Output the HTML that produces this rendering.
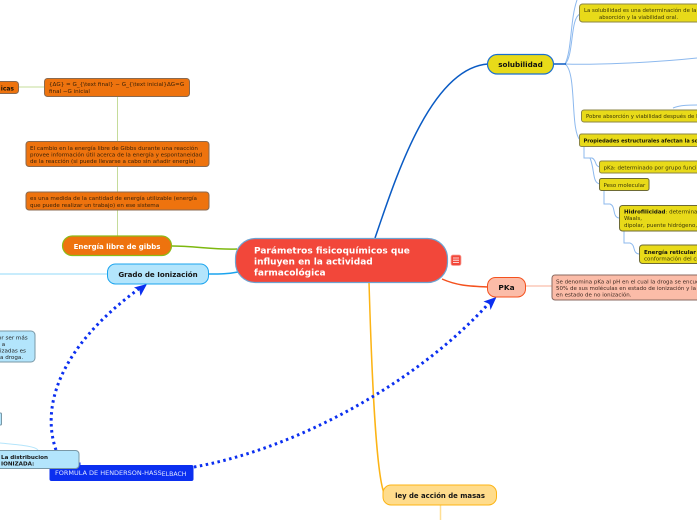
<!DOCTYPE html>
<html><head><meta charset="utf-8"><style>
html,body{margin:0;padding:0;background:#fff;width:697px;height:520px;overflow:hidden}
svg{display:block}
text{font-family:"DejaVu Sans","Liberation Sans",sans-serif}
</style></head><body>
<svg width="697" height="520" viewBox="0 0 697 520" xmlns="http://www.w3.org/2000/svg">
<g fill="none">
<!-- light connectors -->
<path d="M19 87H44" stroke="#c5dc9a" stroke-width="1"/>
<path d="M117.500 97V236" stroke="#c5dc9a" stroke-width="1"/>
<path d="M0 274H108" stroke="#b5e5fb" stroke-width="1.500"/>
<path d="M0 443C20 445 35 446 38 450" stroke="#b5e5fb" stroke-width="1"/>
<path d="M525 286H552" stroke="#fbc9b8" stroke-width="1.500"/>
<path d="M440.500 505V520" stroke="#ffdf94" stroke-width="1.500"/>
<g stroke="#8db9ee" stroke-width="1">
<path d="M565 64C572 50 570 20 577 0"/>
<path d="M565 64C574 56 570 18 580 14"/>
<path d="M565 64C590 65 650 63 697 58"/>
<path d="M565 64C577 72 570 130 580 140"/>
<path d="M673 108C680 105 690 105 697 105"/>
<path d="M584 147V158H592C597 160 594 166 600 167"/>
<path d="M590 158C595 170 592 183 600 184"/>
<path d="M604 191V204H610C616 206 612 217 619 218"/>
<path d="M624 231V243H630C636 245 632 253 639 254"/>
</g>
<!-- main connectors -->
<path d="M172 246C195 246 215 250 237 249" stroke="#7db80f" stroke-width="1.500"/>
<path d="M209 274C220 274 228 274 238 272" stroke="#1ba4ee" stroke-width="1.500"/>
<path d="M375 238C395 180 430 68 488 64" stroke="#0a5bc4" stroke-width="1.500"/>
<path d="M442 279C458 286 470 286 488 287" stroke="#f4511e" stroke-width="1.500"/>
<path d="M369 282C371 350 375 470 384 493" stroke="#fcb415" stroke-width="1.500"/>
<path d="M554 64H566" stroke="#0a5bc4" stroke-width="1.500"/>
<path d="M56 450C42 410 55 350 140 288" stroke="#0b2ff0" stroke-width="3" stroke-dasharray="2.500 3.500"/>
<path d="M78 464H84" stroke="#0b2ff0" stroke-width="3" stroke-dasharray="2.500 3.500"/>
<path d="M194 467C300 448 420 380 490 302" stroke="#0b2ff0" stroke-width="3" stroke-dasharray="2.500 3.500"/>
</g>
<g fill="#0b2ff0">
<path d="M147 284L134 287.500L139.500 290.500L140.500 296Z"/>
<path d="M496.500 297L483.500 301.500L489.500 304L490.500 310Z"/>
</g>

<!-- Left orange nodes -->
<rect x="-20" y="81.500" width="38.500" height="12" rx="3" fill="#ee730e" stroke="#8a6a50"/>
<text x="14" y="90.500" font-size="6" font-weight="bold" text-anchor="end" fill="#1a1206">icas</text>
<rect x="44.500" y="78.500" width="145" height="18" rx="3" fill="#ee730e" stroke="#8a6a50"/>
<text font-size="5.600" fill="#3b2208"><tspan x="49" y="86">{ΔG} = G_{\text final} − G_{\text inicial}ΔG=G</tspan><tspan x="49" y="93">final −G inicial</tspan></text>
<rect x="26" y="141.500" width="183" height="25" rx="3" fill="#ee730e" stroke="#8a6a50"/>
<text font-size="5.600" fill="#3b2208"><tspan x="30" y="150">El cambio en la energía libre de Gibbs durante una reacción</tspan><tspan x="30" y="156.500">provee información útil acerca de la energía y espontaneidad</tspan><tspan x="30" y="163">de la reacción (si puede llevarse a cabo sin añadir energía)</tspan></text>
<rect x="26" y="192" width="183" height="18" rx="3" fill="#ee730e" stroke="#8a6a50"/>
<text font-size="5.600" fill="#3b2208"><tspan x="30" y="200">es una medida de la cantidad de energía utilizable (energía</tspan><tspan x="30" y="207">que puede realizar un trabajo) en ese sistema</tspan></text>
<rect x="62.500" y="236" width="109" height="19.500" rx="9.750" fill="#ee730e" stroke="#8dbb17" stroke-width="1.200"/>
<text x="117" y="249" font-size="7" font-weight="bold" text-anchor="middle" fill="#fff">Energía libre de gibbs</text>

<!-- Grado -->
<rect x="107.500" y="264" width="101" height="20" rx="8" fill="#b3e5fc" stroke="#1ba4ee"/>
<text x="158" y="277" font-size="7.100" font-weight="bold" text-anchor="middle" fill="#151515">Grado de Ionización</text>
<rect x="-30" y="331" width="65" height="31" rx="4" fill="#b3e5fc" stroke="#7a98a6"/>
<text font-size="5.600" fill="#222"><tspan x="-2" y="339.500" text-anchor="start">or ser más</tspan><tspan x="0" y="346"> a</tspan><tspan x="0" y="352.500">izadas es</tspan><tspan x="0" y="359">a droga.</tspan></text>
<rect x="-10" y="413" width="11.500" height="12" rx="1" fill="#b3e5fc" stroke="#7a98a6"/>

<!-- Formula -->
<rect x="49.500" y="465" width="144" height="16" rx="2" fill="#0b2ff0"/>
<text x="55" y="475" font-size="6.500" fill="#dfe6ff">FORMULA DE HENDERSON-HASS<tspan font-size="6.200" dy="1">ELBACH</tspan></text>
<rect x="-20" y="450.500" width="99" height="18" rx="3.500" fill="#b3e5fc" stroke="#7a98a6"/>
<text font-size="5.600" font-weight="bold" fill="#151515"><tspan x="1" y="459">La distribucion</tspan><tspan x="1" y="465.500">IONIZADA:</tspan></text>

<!-- Central -->
<rect x="235.500" y="238.500" width="212" height="44" rx="20" fill="#f2473a" stroke="#6ea2d0" stroke-width="1.200"/>
<text font-size="9" font-weight="bold" fill="#fff"><tspan x="254" y="253.500">Parámetros fisicoquímicos que</tspan><tspan x="254" y="264.500">influyen en la actividad</tspan><tspan x="254" y="275.500">farmacológica</tspan></text>
<rect x="451" y="255" width="10" height="10.500" rx="2" fill="#f2473a" stroke="#f9a49c" stroke-width=".8"/>
<path d="M453 258H459M453 260.200H459M453 262.400H459" stroke="#fff" stroke-width=".8"/>

<!-- solubilidad -->
<rect x="487.500" y="54.500" width="66" height="19.500" rx="9.750" fill="#e8da19" stroke="#1a6fd0" stroke-width="1.200"/>
<text x="520.500" y="67" font-size="7.200" font-weight="bold" text-anchor="middle" fill="#111">solubilidad</text>
<rect x="579.500" y="4" width="140" height="18" rx="3" fill="#e8da19" stroke="#8b8545"/>
<text font-size="5.400" fill="#3a3608"><tspan x="584" y="12">La solubilidad es una determinación de la</tspan><tspan x="599" y="19">absorción y la viabilidad oral.</tspan></text>
<rect x="581.500" y="110" width="140" height="12" rx="2.500" fill="#e8da19" stroke="#8b8545"/>
<text x="586" y="118" font-size="5.400" fill="#3a3608">Pobre absorción y viabilidad después de la</text>
<rect x="579.500" y="134" width="140" height="12.500" rx="2" fill="#e8da19" stroke="#8b8545"/>
<text x="583.500" y="142.500" font-size="5.100" font-weight="bold" fill="#151505">Propiedades estructurales afectan la solubilidad</text>
<rect x="599.500" y="161" width="120" height="12" rx="2" fill="#e8da19" stroke="#8b8545"/>
<text x="603.500" y="169.500" font-size="5.500" fill="#3a3608">pKa: determinado por grupo funcional</text>
<rect x="599.500" y="178.500" width="49.500" height="12" rx="2" fill="#e8da19" stroke="#6d6a35"/>
<text x="603.500" y="187" font-size="5.500" fill="#3a3608">Peso molecular</text>
<rect x="619.500" y="205.500" width="100" height="25.500" rx="3" fill="#e8da19" stroke="#6d6a35"/>
<text font-size="5.500" fill="#3a3608"><tspan x="624" y="213.500" font-weight="bold" fill="#111">Hidrofilicidad</tspan><tspan>: determinada</tspan><tspan x="624" y="220">Waals,</tspan><tspan x="624" y="227">dipolar, puente hidrógeno,</tspan></text>
<rect x="639.500" y="245" width="80" height="18.500" rx="3" fill="#e8da19" stroke="#6d6a35"/>
<text font-size="5.500" fill="#3a3608"><tspan x="644" y="254" font-weight="bold" fill="#111">Energía reticular</tspan><tspan x="644" y="260.500">conformación del cristal</tspan></text>

<!-- PKa -->
<rect x="487.500" y="277.500" width="38" height="19.500" rx="8" fill="#fbbca8" stroke="#f4511e"/>
<text x="506.500" y="290" font-size="7.400" font-weight="bold" text-anchor="middle" fill="#111">PKa</text>
<rect x="552" y="275" width="170" height="25" rx="3" fill="#fbbca8" stroke="#8a6a60"/>
<text font-size="5.500" fill="#3f2a22"><tspan x="556" y="283.500">Se denomina pKa al pH en el cual la droga se encuentra</tspan><tspan x="556" y="290">50% de sus moléculas en estado de ionización y la otra</tspan><tspan x="556" y="296.500">en estado de no ionización.</tspan></text>

<!-- ley -->
<rect x="383" y="485" width="113.500" height="20" rx="8" fill="#ffdc8c" stroke="#fcb415"/>
<text x="440" y="498" font-size="6.900" font-weight="bold" text-anchor="middle" fill="#151515">ley de acción de masas</text>
</svg>
</body></html>
